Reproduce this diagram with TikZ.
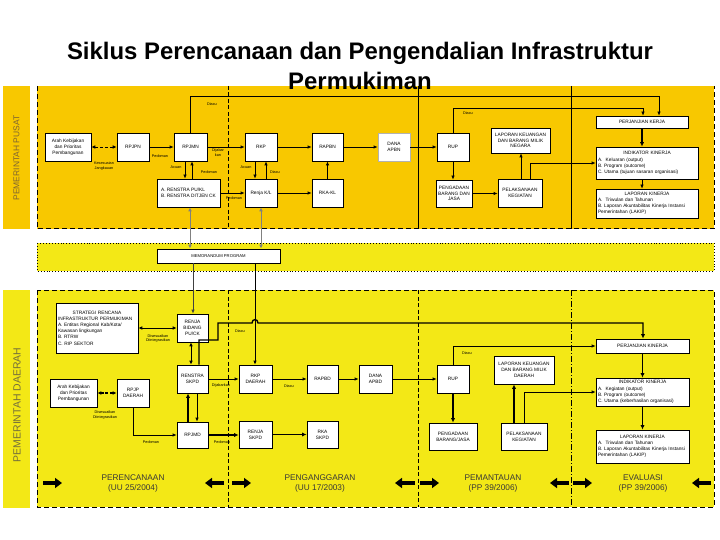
\documentclass[tikz,border=0pt]{standalone}
\usepackage{fontspec}
\setmainfont{Liberation Sans}
\usetikzlibrary{arrows.meta}
\definecolor{gold}{RGB}{248,200,0}
\definecolor{yel}{RGB}{243,232,22}
\definecolor{bartxtP}{RGB}{125,100,50}
\definecolor{bartxtD}{RGB}{115,110,60}
\definecolor{phasetxt}{RGB}{55,55,55}
\tikzset{
  bx/.style={draw=black, line width=0.7bp, fill=white, inner sep=1bp, align=center,
     font=\fontsize{4.8}{5.8}\selectfont},
  lst/.style={bx, align=left, inner xsep=2bp, text width=#1, font=\fontsize{4.8}{6.2}\selectfont},
  lbl/.style={font=\fontsize{3.8}{4.4}\selectfont, inner sep=0pt, align=center},
  conn/.style={line width=0.7bp, -{Latex[length=4bp,width=3.5bp]}},
  bconn/.style={line width=0.8bp, {Latex[length=4bp,width=3.8bp]}-{Latex[length=4bp,width=3.8bp]}},
  thk/.style={line width=1.4bp, -{Latex[length=4.5bp,width=4.2bp]}},
  gconn/.style={draw=gray, line width=0.9bp, {Latex[length=4bp,width=3.8bp]}-{Latex[length=4bp,width=3.8bp]}},
  dsh/.style={line width=1bp, dash pattern=on 5bp off 3bp},
  divd/.style={line width=0.7bp, dash pattern=on 4bp off 2.5bp},
  barrow/.style={line width=4.2bp, -{Triangle[length=7bp,width=10bp]}},
  phase/.style={font=\fontsize{8.3}{10}\selectfont, text=phasetxt, align=center, inner sep=0pt},
  ttl/.style={font=\fontsize{24}{28}\selectfont\bfseries, anchor=base, inner sep=0pt},
}
\begin{document}
\begin{tikzpicture}[x=1bp,y=-1bp]
\useasboundingbox (0,0) rectangle (720,540);
\fill[white] (0,0) rectangle (720,540);
% ---------- panels ----------
\fill[gold] (3,86) rectangle (30,229);
\fill[gold] (37,86) rectangle (714,229);
\draw[dsh] (37,86) -- (37,229) -- (714,229) -- (714,86);
\fill[yel] (37,243) rectangle (714,271);
\draw[dotted, line width=0.9bp] (37,243) rectangle (714,271);
\fill[yel] (3,290) rectangle (30,508);
\fill[yel] (37,290) rectangle (714,507);
\draw[dsh] (37,290) rectangle (714,507);
% dividers
\draw[divd] (228,86) -- (228,229);
\draw[line width=0.7bp] (418,86) -- (418,229);
\draw[line width=0.7bp] (571,86) -- (571,229);
\draw[divd] (228,290) -- (228,507);
\draw[divd] (418,290) -- (418,507);
\draw[line width=0.7bp, dash pattern=on 6bp off 2bp on 1bp off 2bp] (571,290) -- (571,507);
% side labels
\node[rotate=90, font=\fontsize{8.5}{10}\selectfont, text=bartxtP, inner sep=0pt] (pusat) at (16.5,158) {PEMERINTAH PUSAT};
\node[rotate=90, font=\fontsize{10.5}{12}\selectfont, text=bartxtD, inner sep=0pt] (daerah) at (17,405) {PEMERINTAH DAERAH};
% title
\node[ttl] (title1) at (360,60) {Siklus Perencanaan dan Pengendalian Infrastruktur};
\node[ttl] (title2) at (360,90) {Permukiman};

% ---------- upper boxes ----------
\node[bx, minimum width=46bp, minimum height=28bp] (arahP) at (68,147) {Arah Kebijakan\\dan Prioritas\\Pembangunan};
\node[bx, minimum width=32bp, minimum height=28bp] (rpjpn) at (133,147) {RPJPN};
\node[bx, minimum width=33bp, minimum height=28bp] (rpjmn) at (190.5,147) {RPJMN};
\node[bx, minimum width=63bp, minimum height=28bp, align=left] (renstra) at (188.5,193) {A. RENSTRA PU/KL\\B. RENSTRA DITJEN CK};
\node[bx, minimum width=32bp, minimum height=28bp] (rkp) at (261,147) {RKP};
\node[bx, minimum width=31bp, minimum height=28bp] (rapbn) at (327.5,147) {RAPBN};
\node[bx, minimum width=32bp, minimum height=28bp, draw=gray!60] (danaapbn) at (394,147) {DANA\\APBN};
\node[bx, minimum width=32bp, minimum height=28bp] (rup) at (453,147) {RUP};
\node[bx, minimum width=32bp, minimum height=28bp] (renja) at (261,193) {Renja K/L};
\node[bx, minimum width=31bp, minimum height=28bp] (rkakl) at (327.5,193) {RKA-KL};
\node[bx, minimum width=36bp, minimum height=27bp] (pengadaan) at (454,193.5) {PENGADAAN\\BARANG DAN\\JASA};
\node[bx, minimum width=59bp, minimum height=25bp] (lapkeu) at (520.5,140.5) {LAPORAN KEUANGAN\\DAN BARANG MILIK\\NEGARA};
\node[bx, minimum width=44bp, minimum height=28bp] (pelaksanaan) at (520,193) {PELAKSANAAN\\KEGIATAN};
\node[bx, minimum width=92bp, minimum height=12bp] (perjanjian) at (642,122) {PERJANJIAN KERJA};
\node[lst=98bp, minimum height=32bp] (indikator) at (647,163) {{\centering INDIKATOR KINERJA\par}A.~~Keluaran (output)\\B.~Program (outcome)\\C.~Utama (tujuan sasaran organisasi)};
\node[lst=98bp, minimum height=29bp] (lapkin) at (647,203.5) {{\centering LAPORAN KINERJA\par}A.~~Triwulan dan Tahunan\\B.~Laporan Akuntabilitas Kinerja Instansi\\Pemerintahan (LAKIP)};

% memorandum
\node[bx, minimum width=123bp, minimum height=14bp, font=\fontsize{4.2}{5}\selectfont] (memo) at (218.5,256) {MEMORANDUM PROGRAM};

% ---------- lower boxes ----------
\node[bx, minimum width=47bp, minimum height=28bp] (arahD) at (73.5,393) {Arah Kebijakan\\dan Prioritas\\Pembangunan};
\node[bx, minimum width=32bp, minimum height=28bp] (rpjpd) at (133,393) {RPJP\\DAERAH};
\node[lst=78bp, minimum height=50bp] (strategi) at (97,328) {{\centering STRATEGI RENCANA\par}INFRASTRUKTUR PERMUKIMAN\\A.~Entitas Regional Kab/Kota/\\Kawasan lingkungan\\B.~RTRW\\C.~RIP SEKTOR};
\node[bx, minimum width=31bp, minimum height=28bp] (renjabid) at (192.5,328) {RENJA\\BIDANG\\PU/CK};
\node[bx, minimum width=31bp, minimum height=28bp] (renstraskpd) at (192.5,379) {RENSTRA\\SKPD};
\node[bx, minimum width=31bp, minimum height=26bp] (rpjmd) at (192.5,435) {RPJMD};
\node[bx, minimum width=33bp, minimum height=28bp] (rkpd) at (255.5,379) {RKP\\DAERAH};
\node[bx, minimum width=31bp, minimum height=28bp] (rapbd) at (322.5,379) {RAPBD};
\node[bx, minimum width=33bp, minimum height=28bp] (danaapbd) at (375.5,379) {DANA\\APBD};
\node[bx, minimum width=32bp, minimum height=28bp] (rupd) at (453,379) {RUP};
\node[bx, minimum width=33bp, minimum height=27bp] (renjaskpd) at (255.5,434.5) {RENJA\\SKPD};
\node[bx, minimum width=31bp, minimum height=27bp] (rkaskpd) at (322.5,434.5) {RKA\\SKPD};
\node[bx, minimum width=48bp, minimum height=27bp] (pengadaand) at (453,436.5) {PENGADAAN\\BARANG/JASA};
\node[bx, minimum width=60bp, minimum height=28bp] (lapkeud) at (524,370) {LAPORAN KEUANGAN\\DAN BARANG MILIK\\DAERAH};
\node[bx, minimum width=46bp, minimum height=27bp] (pelaksanaand) at (524,436.5) {PELAKSANAAN\\KEGIATAN};
\node[bx, minimum width=93bp, minimum height=14bp] (perjanjiand) at (642.5,346) {PERJANJIAN KINERJA};
\node[lst=89bp, minimum height=28bp] (indikatord) at (642.5,392) {{\centering INDIKATOR KINERJA\par}A.~~Kegiatan (output)\\B.~Program (outcome)\\C.~Utama (keberhasilan organisasi)};
\node[lst=89bp, minimum height=33bp] (lapkind) at (642.5,446.5) {{\centering LAPORAN KINERJA\par}A.~~Triwulan dan Tahunan\\B.~Laporan Akuntabilitas Kinerja Instansi\\Pemerintahan (LAKIP)};

% ---------- upper connectors ----------
\draw[bconn, dash pattern=on 3bp off 2bp] (arahP.east) -- (rpjpn.west);
\draw[conn] (rpjpn.east) -- (rpjmn.west);
\draw[conn] (rpjmn.east) -- (rkp.west);
\draw[conn] (185,0 |- rpjmn.south) -- (185,0 |- renstra.north);
\draw[conn] (192,0 |- renstra.north) -- (192,0 |- rpjmn.south);
\draw[conn] (renstra.east) -- (renja.west);
\draw[conn] (255,0 |- rkp.south) -- (255,0 |- renja.north);
\draw[conn] (266,0 |- renja.north) -- (266,0 |- rkp.south);
\draw[conn] (rkp.east) -- (rapbn.west);
\draw[conn] (rkakl.north) -- (rapbn.south);
\draw[conn] (renja.east) -- (rkakl.west);
\draw[conn] (rapbn.east) -- (danaapbn.west);
\draw[conn] (danaapbn.east) -- (rup.west);
\draw[conn] (453,0 |- rup.south) -- (453,0 |- pengadaan.north);
\draw[conn] (pengadaan.east) -- (pengadaan.east -| pelaksanaan.west);
\draw[conn] (521,0 |- pelaksanaan.north) -- (521,0 |- lapkeu.south);
\draw[conn] (530,0 |- pelaksanaan.north) |- (indikator.west);
\coordinate (topR) at (659,96);
\coordinate (midR) at (643,108);
\draw[conn] (rpjmn.north) |- (topR) -- (topR |- perjanjian.north);
\draw[conn] (rup.north) |- (midR) -- (midR |- perjanjian.north);
\draw[thk] (perjanjian.south) -- (perjanjian.south |- indikator.north);
\draw[conn] (642,0 |- indikator.south) -- (642,0 |- lapkin.north);
\draw[gconn] (190,0 |- renstra.south) -- (190,0 |- memo.north);
\draw[gconn] (261,0 |- renja.south) -- (261,0 |- memo.north);

% ---------- lower connectors ----------
\draw[conn, draw=gray!50!black] (193,0 |- memo.south) -- (193,0 |- renjabid.north);
\draw[conn, line width=0.9bp] (255,0 |- memo.south) -- (255,0 |- rkpd.north);
\draw[thk] (199,0 |- renstraskpd.north) -- (199,340) -- (218,340) -- (218,323) -- (252,323)
   .. controls (252,318.5) and (258,318.5) .. (258,323) -- (643,323) -- (643,0 |- perjanjiand.north);
\draw[bconn] (strategi.east) -- (renjabid.west);
\draw[bconn] (191,0 |- renjabid.south) -- (191,0 |- renstraskpd.north);
\draw[thk] (188,0 |- rpjmd.north) -- (188,0 |- renstraskpd.south);
\draw[conn] (197,0 |- renstraskpd.south) -- (197,0 |- rpjmd.north);
\draw[bconn, line width=1.1bp, dash pattern=on 3bp off 1.5bp] (arahD.east) -- (rpjpd.west);
\draw[conn] (rpjpd.south) |- (rpjmd.west);
\draw[conn] (renstraskpd.east) -- (rkpd.west);
\draw[thk] (rpjmd.east) -- (rpjmd.east -| renjaskpd.west);
\draw[conn] (rkpd.east) -- (rapbd.west);
\draw[conn] (rapbd.east) -- (danaapbd.west);
\draw[conn] (danaapbd.east) -- (rupd.west);
\draw[thk] (renjaskpd.east) -- (rkaskpd.west);
\draw[thk] (rupd.south) -- (rupd.south |- pengadaand.north);
\draw[conn] (rupd.north) |- (perjanjiand.west);
\draw[thk] (514,0 |- pelaksanaand.north) -- (514,0 |- lapkeud.south);
\draw[conn] (524,0 |- pelaksanaand.north) |- (indikatord.west);
\draw[thk] (perjanjiand.south) -- (perjanjiand.south |- indikatord.north);
\draw[thk] (indikatord.south) -- (indikatord.south |- lapkind.north);

% ---------- labels ----------
\node[lbl] (l1) at (104,166) {Kesesuaian\\Jangkauan};
\node[lbl] (l2) at (160,156) {Pedoman};
\node[lbl] (l3) at (218,152.5) {Dijabar\\kan};
\node[lbl] (l4) at (176,167) {Acuan};
\node[lbl] (l5) at (209,172) {Pedoman};
\node[lbl] (l6) at (246,167) {Acuan};
\node[lbl] (l7) at (275,172) {Diacu};
\node[lbl] (l8) at (234,198.5) {Pedoman};
\node[lbl] (l9) at (212,104) {Diacu};
\node[lbl] (l10) at (468,113) {Diacu};
\node[lbl] (l11) at (158,338.5) {Disesuaikan\\Diintegrasikan};
\node[lbl] (l12) at (105,415) {Disesuaikan\\Diintegrasikan};
\node[lbl] (l13) at (151,442) {Pedoman};
\node[lbl] (l14) at (221,386) {Dijabarkan};
\node[lbl] (l15) at (222,442) {Pedoman};
\node[lbl] (l16) at (240,331) {Diacu};
\node[lbl] (l17) at (289,386) {Diacu};
\node[lbl] (l18) at (467,353) {Diacu};

% ---------- phases ----------
\draw[barrow] (43,483) -- (62,483);
\draw[barrow] (224,483) -- (205,483);
\draw[barrow] (232,483) -- (251,483);
\draw[barrow] (415,483) -- (395,483);
\draw[barrow] (420,483) -- (439,483);
\draw[barrow] (569,483) -- (550,483);
\draw[barrow] (573,483) -- (592,483);
\draw[barrow] (711,483) -- (692,483);
\node[phase] (ph1) at (133,483.5) {PERENCANAAN\\(UU 25/2004)};
\node[phase] (ph2) at (320,483.5) {PENGANGGARAN\\(UU 17/2003)};
\node[phase] (ph3) at (493,483.5) {PEMANTAUAN\\(PP 39/2006)};
\node[phase] (ph4) at (643,483.5) {EVALUASI\\(PP 39/2006)};
\end{tikzpicture}
\end{document}
